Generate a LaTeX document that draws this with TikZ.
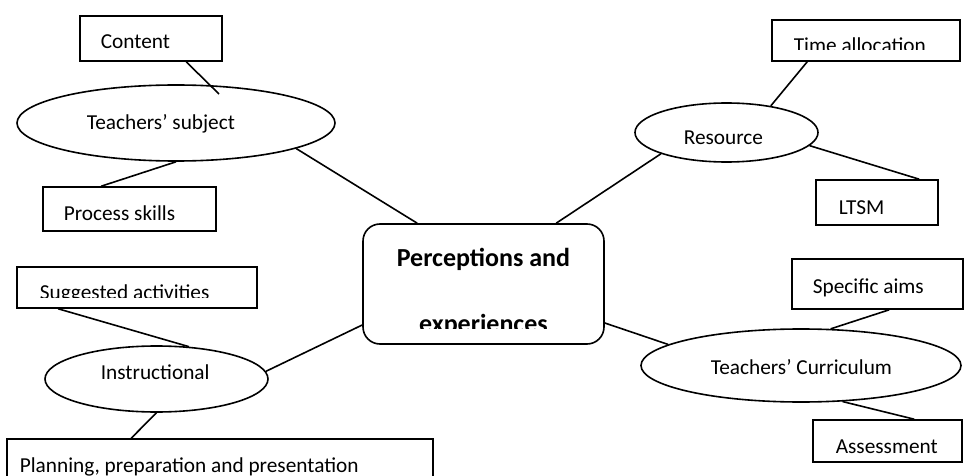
\documentclass[tikz,border=0pt]{standalone}
\usepackage{fontspec}
\setmainfont{Carlito}
\usetikzlibrary{shapes.geometric,calc}
\begin{document}
\begin{tikzpicture}[x=1pt,y=-1pt,line width=1.6pt,
  box/.style={draw,rectangle,inner sep=0pt},
  oval/.style={draw,ellipse,inner sep=0pt},
  lbl/.style={anchor=base west,inner sep=0pt,font=\fontsize{21.3}{25}\selectfont},
  bold/.style={anchor=base,inner sep=0pt,font=\fontsize{26}{30}\selectfont\bfseries}]
\useasboundingbox (0,0) rectangle (964,476);
\fill[white] (0,0) rectangle (964,476);

% boxes and ovals
\node[box,minimum width=142pt,minimum height=45pt] (content) at (151,38.5) {};
\node[oval,minimum width=318pt,minimum height=76pt] (subj) at (176,123) {};
\node[box,minimum width=173pt,minimum height=44pt] (proc) at (129.5,209) {};
\node[box,minimum width=188pt,minimum height=41pt] (timeb) at (866,40.5) {};
\node[oval,minimum width=183pt,minimum height=59pt] (res) at (726.5,132.5) {};
\node[box,minimum width=122pt,minimum height=45pt] (ltsm) at (877,202.5) {};
\node[box,rounded corners=17pt,minimum width=241pt,minimum height=120pt] (cen) at (483.5,284) {};
\node[box,minimum width=240pt,minimum height=41pt] (sugg) at (137,287.5) {};
\node[oval,minimum width=223pt,minimum height=66pt] (inst) at (156.5,379) {};
\node[box,minimum width=426pt,minimum height=61pt] (plan) at (220,469.5) {};
\node[box,minimum width=171pt,minimum height=50pt] (spec) at (877.5,284) {};
\node[oval,minimum width=320pt,minimum height=73pt] (cur) at (801,365.5) {};
\node[box,minimum width=149pt,minimum height=42pt] (assess) at (887.5,441) {};

% texts
\node[lbl] (contentT) at (100,49) {Content};
\node[lbl] (subjT) at (86,130) {Teachers’ subject};
\node[lbl] (procT) at (63,220) {Process skills};
\begin{scope}
  \clip (700,0) rectangle (964,50);
  \node[lbl] (timeT) at (793,52.5) {Time allocation};
\end{scope}
\node[lbl] (resT) at (683,144.5) {Resource};
\node[lbl] (ltsmT) at (838,214) {LTSM};
\node[bold] (cenT1) at (483.5,266.5) {Perceptions and};
\begin{scope}
  \clip (370,290) rectangle (600,328);
  \node[bold] (cenT2) at (483.5,332) {experiences};
\end{scope}
\begin{scope}
  \clip (18,268) rectangle (256,297);
  \node[lbl] (suggT) at (39,299.5) {Suggested activities};
\end{scope}
\node[lbl] (instT) at (100,379) {Instructional};
\begin{scope}
  \clip (8,440) rectangle (432,476);
  \node[lbl] (planT) at (19,472.5) {Planning, preparation and presentation};
\end{scope}
\node[lbl] (specT) at (812,293) {Specific aims};
\node[lbl] (curT) at (710,374) {Teachers’ Curriculum};
\node[lbl] (assessT) at (835,453) {Assessment};

% connectors
\draw ($(content.south west)+(107,0)$) -- ($(subj.center)+(43,-29)$);
\draw ($(proc.north west)+(59,0)$) -- (subj.south);
\draw (subj.-12.6) -- ($(cen.north west)+(55,0)$);
\draw ($(timeb.south west)+(36,0)$) -- (res.31);
\draw (res.-9.5) -- ($(ltsm.north west)+(104,0)$);
\draw (res.198.7) -- ($(cen.north west)+(194,0)$);
\draw ($(sugg.south west)+(42,0)$) -- (inst.45);
\draw (inst.south) -- ($(plan.north west)+(125,0)$);
\draw (inst.4.6) -- ($(cen.west)+(0,41)$);
\draw ($(cen.east)+(0,39)$) -- (cur.171.2);
\draw ($(spec.south west)+(98,0)$) -- (cur.51);
\draw (cur.-41.9) -- ($(assess.north west)+(102,0)$);
\end{tikzpicture}
\end{document}
